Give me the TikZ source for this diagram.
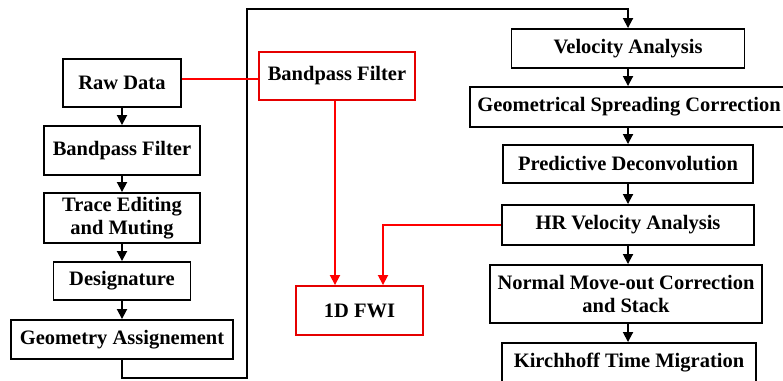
\documentclass[tikz,border=0pt]{standalone}
\usepackage{fontspec}
\setmainfont{Liberation Serif}
\usetikzlibrary{arrows.meta}
\tikzset{
  box/.style={draw=black, line width=1.9pt, fill=white, inner sep=0pt, align=center,
    font=\bfseries\fontsize{20.5}{23.5}\selectfont},
  redbox/.style={box, draw=red!90!black},
  flow/.style={draw=black, line width=1.8pt, -{Triangle[width=10pt,length=10pt]}},
  redflow/.style={draw=red, line width=1.8pt, -{Triangle[width=10pt,length=10pt]}},
  redline/.style={draw=red, line width=1.8pt}
}
\begin{document}
\begin{tikzpicture}[x=1pt,y=-1pt]
\useasboundingbox (0,0) rectangle (783,380);
\clip (0,0) rectangle (783,380);
% left column
\node[box, minimum width=118pt, minimum height=48pt] (raw) at (122,83) {Raw Data};
\node[box, minimum width=156pt, minimum height=49pt] (bp1) at (122,150.5) {Bandpass Filter};
\node[box, minimum width=156pt, minimum height=50pt] (trace) at (122,218) {Trace Editing\\and Muting};
\node[box, minimum width=137pt, minimum height=38pt] (design) at (122,281) {Designature};
\node[box, minimum width=222pt, minimum height=39pt] (geom) at (122,339.5) {Geometry Assignement};
% middle (red)
\node[redbox, minimum width=156pt, minimum height=48pt] (bpr) at (337,76) {Bandpass Filter};
\node[redbox, minimum width=127pt, minimum height=49pt] (fwi) at (359.5,310.5) {1D FWI};
% right column
\node[box, minimum width=233pt, minimum height=39pt] (vel) at (628,48.5) {Velocity Analysis};
\node[box, minimum width=318pt, minimum height=40pt] (gsc) at (629,107) {Geometrical Spreading Correction};
\node[box, minimum width=250pt, minimum height=38pt] (pred) at (628,164) {Predictive Deconvolution};
\node[box, minimum width=252pt, minimum height=40pt] (hr) at (628,225) {HR Velocity Analysis};
\node[box, minimum width=272pt, minimum height=58pt] (nmo) at (626,294) {Normal Move-out Correction\\and Stack};
\node[box, minimum width=254pt, minimum height=40pt] (kir) at (629,363) {Kirchhoff Time Migration};
% coordinates for the loop
\coordinate (c1) at (247,378);
\coordinate (c2) at (247,9);
% left arrows
\draw[flow] (raw) -- (bp1);
\draw[flow] (bp1) -- (trace);
\draw[flow] (trace) -- (design);
\draw[flow] (design) -- (geom);
% loop
\draw[flow] (geom.south) |- (c1) -- (c2) -| (vel.north);
% right arrows
\draw[flow] (vel.south) -- (vel.south |- gsc.north);
\draw[flow] (gsc.south -| vel.south) -- (pred.north -| vel.south);
\draw[flow] (pred) -- (hr);
\draw[flow] (hr) -- (hr.south |- nmo.north);
\draw[flow] (nmo.south -| hr.south) -- (kir.north -| hr.south);
% red connections
\draw[redline] ([yshift=4pt]raw.east) -- ([yshift=-3pt]bpr.west);
\draw[redflow] ([xshift=-2pt]bpr.south) -- ([xshift=-24.5pt]fwi.north);
\draw[redflow] (hr.west) -| ([xshift=23.5pt]fwi.north);
\end{tikzpicture}
\end{document}
